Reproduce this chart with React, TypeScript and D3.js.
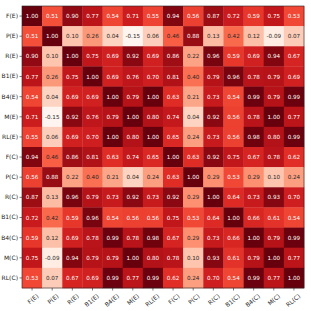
import * as d3 from "d3";
import React from "react";

// variable names, same order on both axes
const labels = [
  "F(E)", "P(E)", "R(E)", "B1(E)", "B4(E)", "M(E)", "RL(E)",
  "F(C)", "P(C)", "R(C)", "B1(C)", "B4(C)", "M(C)", "RL(C)",
];

// correlation matrix, one row per label
const rowFE = [1.0, 0.51, 0.9, 0.77, 0.54, 0.71, 0.55, 0.94, 0.56, 0.87, 0.72, 0.59, 0.75, 0.53];
const rowPE = [0.51, 1.0, 0.1, 0.26, 0.04, -0.15, 0.06, 0.46, 0.88, 0.13, 0.42, 0.12, -0.09, 0.07];
const rowRE = [0.9, 0.1, 1.0, 0.75, 0.69, 0.92, 0.69, 0.86, 0.22, 0.96, 0.59, 0.69, 0.94, 0.67];
const rowB1E = [0.77, 0.26, 0.75, 1.0, 0.69, 0.76, 0.7, 0.81, 0.4, 0.79, 0.96, 0.78, 0.79, 0.69];
const rowB4E = [0.54, 0.04, 0.69, 0.69, 1.0, 0.79, 1.0, 0.63, 0.21, 0.73, 0.54, 0.99, 0.79, 0.99];
const rowME = [0.71, -0.15, 0.92, 0.76, 0.79, 1.0, 0.8, 0.74, 0.04, 0.92, 0.56, 0.78, 1.0, 0.77];
const rowRLE = [0.55, 0.06, 0.69, 0.7, 1.0, 0.8, 1.0, 0.65, 0.24, 0.73, 0.56, 0.98, 0.8, 0.99];
const rowFC = [0.94, 0.46, 0.86, 0.81, 0.63, 0.74, 0.65, 1.0, 0.63, 0.92, 0.75, 0.67, 0.78, 0.62];
const rowPC = [0.56, 0.88, 0.22, 0.4, 0.21, 0.04, 0.24, 0.63, 1.0, 0.29, 0.53, 0.29, 0.1, 0.24];
const rowRC = [0.87, 0.13, 0.96, 0.79, 0.73, 0.92, 0.73, 0.92, 0.29, 1.0, 0.64, 0.73, 0.93, 0.7];
const rowB1C = [0.72, 0.42, 0.59, 0.96, 0.54, 0.56, 0.56, 0.75, 0.53, 0.64, 1.0, 0.66, 0.61, 0.54];
const rowB4C = [0.59, 0.12, 0.69, 0.78, 0.99, 0.78, 0.98, 0.67, 0.29, 0.73, 0.66, 1.0, 0.79, 0.99];
const rowMC = [0.75, -0.09, 0.94, 0.79, 0.79, 1.0, 0.8, 0.78, 0.1, 0.93, 0.61, 0.79, 1.0, 0.77];
const rowRLC = [0.53, 0.07, 0.67, 0.69, 0.99, 0.77, 0.99, 0.62, 0.24, 0.7, 0.54, 0.99, 0.77, 1.0];

const matrix = [
  rowFE, rowPE, rowRE, rowB1E, rowB4E, rowME, rowRLE,
  rowFC, rowPC, rowRC, rowB1C, rowB4C, rowMC, rowRLC,
];

const App = () => {
  const ref = React.useRef<SVGSVGElement>(null);

  React.useEffect(() => {
    const W = 311,
      H = 311;
    const margin = { top: 6, right: 7, bottom: 23, left: 22 };
    const size = Math.min(W - margin.left - margin.right, H - margin.top - margin.bottom);

    const svg = d3.select(ref.current);
    svg.selectAll("*").remove();
    svg.attr("width", W).attr("height", H);

    const graph = svg
      .append("g")
      .attr("transform", `translate(${margin.left},${margin.top})`);

    const x = d3.scaleBand().domain(labels).range([0, size]);
    const y = d3.scaleBand().domain(labels).range([0, size]);

    const allVals = matrix.flat();
    const color = d3
      .scaleSequential(d3.interpolateReds)
      .domain([d3.min(allVals) as number, d3.max(allVals) as number]);

    const cells = matrix.flatMap((row, i) =>
      row.map((v, j) => ({ r: labels[i], c: labels[j], v }))
    );

    graph
      .selectAll("rect.cell")
      .data(cells)
      .enter()
      .append("rect")
      .attr("class", "cell")
      .attr("x", (d) => x(d.c) as number)
      .attr("y", (d) => y(d.r) as number)
      .attr("width", x.bandwidth() + 0.3)
      .attr("height", y.bandwidth() + 0.3)
      .attr("fill", (d) => color(d.v));

    graph
      .selectAll("text.val")
      .data(cells)
      .enter()
      .append("text")
      .attr("class", "val")
      .attr("x", (d) => (x(d.c) as number) + x.bandwidth() / 2)
      .attr("y", (d) => (y(d.r) as number) + y.bandwidth() / 2)
      .attr("text-anchor", "middle")
      .attr("dominant-baseline", "central")
      .attr("font-family", "DejaVu Sans")
      .attr("font-size", 5.6)
      .attr("fill", (d) => (d.v > 0.5 ? "white" : "#262626"))
      .text((d) => d.v.toFixed(2));

    // frame
    graph
      .append("rect")
      .attr("width", size)
      .attr("height", size)
      .attr("fill", "none")
      .attr("stroke", "#222")
      .attr("stroke-width", 0.6);

    const yAxis = graph
      .append("g")
      .call(d3.axisLeft(y).tickSize(2.5).tickPadding(1.5));
    yAxis.select(".domain").remove();
    yAxis.selectAll("line").attr("stroke", "#222").attr("stroke-width", 0.6);
    yAxis
      .selectAll("text")
      .attr("font-family", "DejaVu Sans")
      .attr("font-size", 6)
      .attr("fill", "#222");

    const xAxis = graph
      .append("g")
      .attr("transform", `translate(0,${size})`)
      .call(d3.axisBottom(x).tickSize(2.5).tickPadding(1.5));
    xAxis.select(".domain").remove();
    xAxis.selectAll("line").attr("stroke", "#222").attr("stroke-width", 0.6);
    xAxis
      .selectAll("text")
      .attr("font-family", "DejaVu Sans")
      .attr("font-size", 6)
      .attr("fill", "#222")
      .attr("text-anchor", "end")
      .attr("dy", "0.6em")
      .attr("transform", "translate(2,3) rotate(-40)");
  }, []);

  return <svg ref={ref} style={{ position: "absolute", left: 0, top: 0 }} />;
};

export default App;
